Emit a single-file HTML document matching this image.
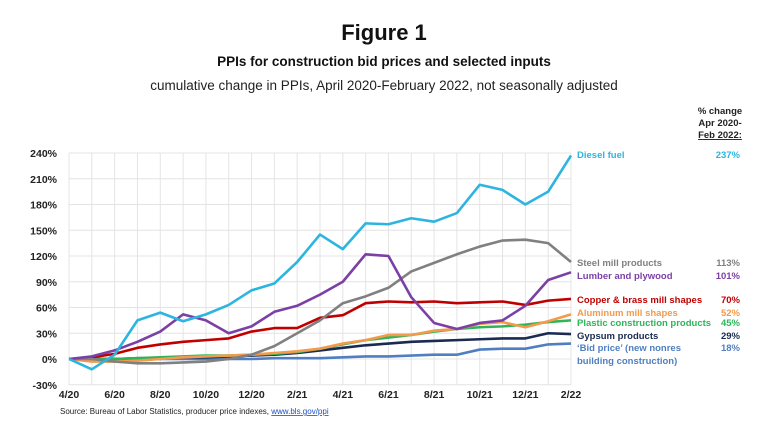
<!DOCTYPE html>
<html><head><meta charset="utf-8"><style>
body{margin:0;background:#fff;font-family:"Liberation Sans",sans-serif;}
svg text{font-family:"Liberation Sans",sans-serif;}
</style></head><body>
<svg width="768" height="431" viewBox="0 0 768 431" id="c">
<text x="384" y="40" text-anchor="middle" font-size="22" font-weight="bold" fill="#111">Figure 1</text>
<text x="384" y="66" text-anchor="middle" font-size="13.5" font-weight="bold" fill="#111">PPIs for construction bid prices and selected inputs</text>
<text x="384" y="90" text-anchor="middle" font-size="13.5" fill="#222">cumulative change in PPIs, April 2020-February 2022, not seasonally adjusted</text>
<g font-size="9.5" font-weight="bold" fill="#222" text-anchor="middle">
<text x="720" y="114">% change</text><text x="720" y="126">Apr 2020-</text><text x="720" y="138" text-decoration="underline">Feb 2022:</text></g>
<g id="grid"></g>
<g id="axes"></g>
<g id="lines"></g>
<g id="labels"></g>
<text x="60" y="414" font-size="8" fill="#222">Source: Bureau of Labor Statistics, producer price indexes, <tspan fill="#1a4fbf" text-decoration="underline">www.bls.gov/ppi</tspan></text>
</svg>
<script>
const months=["4/20","5/20","6/20","7/20","8/20","9/20","10/20","11/20","12/20","1/21","2/21","3/21","4/21","5/21","6/21","7/21","8/21","9/21","10/21","11/21","12/21","1/22","2/22"];
const yTicks=[-30,0,30,60,90,120,150,180,210,240];
const diesel=[0,-12,5,45,54,44,52,63,80,88,113,145,128,158,157,164,160,170,203,197,180,195,237];
const lumber=[0,3,10,20,32,52,45,30,38,55,62,75,90,122,120,72,42,35,42,45,62,92,101];
const steel=[0,0,-3,-5,-5,-4,-3,0,5,15,30,45,65,73,83,102,112,122,131,138,139,135,113];
const copper=[0,2,6,13,17,20,22,24,32,36,36,48,51,65,67,66,67,65,66,67,63,68,70];
const aluminum=[0,-3,-3,-2,0,2,3,4,5,7,9,12,18,22,28,28,33,35,41,43,37,44,52];
const plastic=[0,0,0,1,2,3,4,4,5,6,8,12,17,22,25,28,32,35,37,38,40,43,45];
const gypsum=[0,0,0,1,1,2,2,3,4,5,7,10,13,16,18,20,21,22,23,24,24,30,29];
const bid=[0,0,0,0,0,0,0,0,0,1,1,1,2,3,3,4,5,5,11,12,12,17,18];
const seriesNames=["Diesel fuel","Steel mill products","Lumber and plywood","Copper & brass mill shapes","Aluminum mill shapes","Plastic construction products","Gypsum products","‘Bid price’ (new nonres"];
const pctLabels=["237%","113%","101%","70%","52%","45%","29%","18%"];
const NS="http://www.w3.org/2000/svg";
const x=i=>69+i*(502/22);
const y=v=>359-v*(206/240);
function mk(t,a,p){const e=document.createElementNS(NS,t);for(const k in a)e.setAttribute(k,a[k]);p.appendChild(e);return e;}
const grid=document.getElementById('grid'),axes=document.getElementById('axes'),lines=document.getElementById('lines'),labels=document.getElementById('labels');
months.forEach((m,i)=>{const l=mk('line',{x1:x(i),x2:x(i),y1:y(240),y2:y(-30),stroke:'#e4e4e4','stroke-width':1},grid);

if(i%2==0){const t=mk('text',{x:x(i),y:398,'text-anchor':'middle','font-size':10.5,'font-weight':'bold',fill:'#222'},axes);t.textContent=m;
}});
yTicks.forEach(v=>{const l=mk('line',{x1:x(0),x2:x(22),y1:y(v),y2:y(v),stroke:'#e4e4e4','stroke-width':1},grid);

const t=mk('text',{x:57,y:y(v)+4,'text-anchor':'end','font-size':10.5,'font-weight':'bold',fill:'#222'},axes);t.textContent=v+'%';
});
const S=[["bid",bid,"#4f7fc0"],["gypsum",gypsum,"#1a2a50"],["plastic",plastic,"#2eb55a"],["aluminum",aluminum,"#f39a4c"],["copper",copper,"#c00000"],["steel",steel,"#808080"],["lumber",lumber,"#7b3fa6"],["diesel",diesel,"#2db5e0"]];
S.forEach(([n,d,c])=>{const p=mk('polyline',{points:d.map((v,i)=>x(i)+','+y(v)).join(' '),fill:'none',stroke:c,'stroke-width':2.6,'stroke-linejoin':'round'},lines);
});
const lc=["#2db5e0","#808080","#7b3fa6","#c00000","#f39a4c","#2eb55a","#1a2a50","#4f7fc0"];
const ly=[158,266,279,303,316,326,339,351];
seriesNames.forEach((s,i)=>{const t=mk('text',{x:577,y:ly[i],'font-size':9.5,'font-weight':'bold',fill:lc[i]},labels);t.textContent=s;

const v=mk('text',{x:740,y:ly[i],'text-anchor':'end','font-size':9.5,'font-weight':'bold',fill:lc[i]},labels);v.textContent=pctLabels[i];
});
const t2=mk('text',{x:577,y:364,'font-size':9.5,'font-weight':'bold',fill:'#4f7fc0'},labels);t2.textContent='building  construction)';

</script>
</body></html>
